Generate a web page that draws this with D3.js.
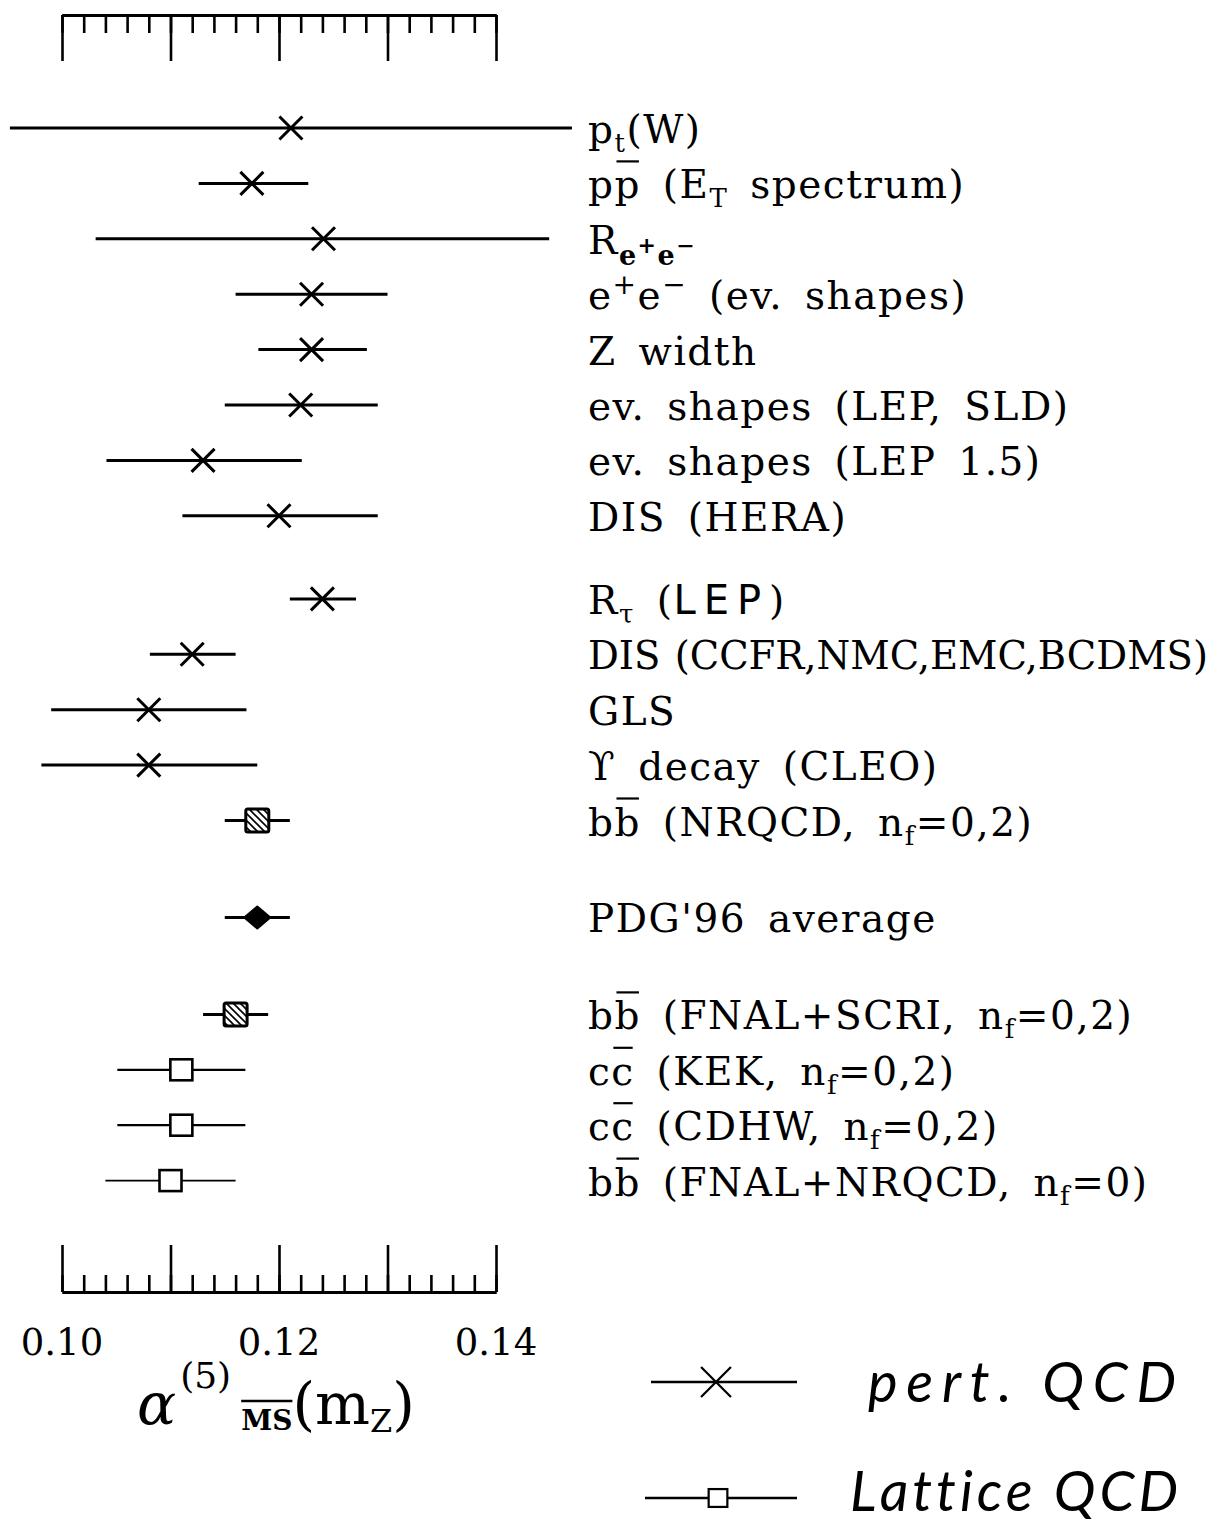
<!DOCTYPE html>
<html>
<head>
<meta charset="utf-8">
<script src="https://cdn.jsdelivr.net/npm/d3@7"></script>
<style>
  html, body { margin: 0; padding: 0; background: #fff; }
  svg { display: block; }
</style>
</head>
<body>
<script>
// ---------- data ----------
const labels = [
  [["p","n"],["t","sub"],["(W)","n"]],
  [["p","n"],["p","bar"],[" (E","n"],["T","sub"],[" spectrum)","n"]],
  [["R","n"],["e","esub"],["+","esup"],["e","esub"],["−","esup"]],
  [["e","n"],["+","sup"],["e","n"],["−","sup"],[" (ev. shapes)","n"]],
  [["Z width","n"]],
  [["ev. shapes (LEP, SLD)","n"]],
  [["ev. shapes (LEP 1.5)","n"]],
  [["DIS (HERA)","n"]],
  [["R","n"],["τ","sub"],[" (","n"],["LEP","sans"],[")","n"]],
  [["DIS (CCFR,NMC,EMC,BCDMS)","n"]],
  [["GLS","n"]],
  [["ϒ decay (CLEO)","n"]],
  [["b","n"],["b","bar"],[" (NRQCD, n","n"],["f","sub"],["=0,2)","n"]],
  [["PDG'96 average","n"]],
  [["b","n"],["b","bar"],[" (FNAL+SCRI, n","n"],["f","sub"],["=0,2)","n"]],
  [["c","n"],["c","bar"],[" (KEK, n","n"],["f","sub"],["=0,2)","n"]],
  [["c","n"],["c","bar"],[" (CDHW, n","n"],["f","sub"],["=0,2)","n"]],
  [["b","n"],["b","bar"],[" (FNAL+NRQCD, n","n"],["f","sub"],["=0)","n"]]
];
const slots   = [0, 1, 2, 3, 4, 5, 6, 7, 8.5, 9.5, 10.5, 11.5, 12.5, 14.25, 16, 17, 18, 19];
const centers = [0.1211, 0.1175, 0.1241, 0.1230, 0.1230, 0.1220, 0.1130, 0.1200, 0.1240, 0.1120, 0.1080, 0.1080, 0.1180, 0.1180, 0.1160, 0.1110, 0.1110, 0.1100];
const lows    = [0.0952, 0.1126, 0.1031, 0.1160, 0.1181, 0.1150, 0.1041, 0.1111, 0.1210, 0.1081, 0.0990, 0.0981, 0.1150, 0.1150, 0.1130, 0.1051, 0.1051, 0.1040];
const highs   = [0.1470, 0.1227, 0.1449, 0.1300, 0.1281, 0.1291, 0.1221, 0.1291, 0.1271, 0.1160, 0.1170, 0.1180, 0.1210, 0.1210, 0.1190, 0.1169, 0.1169, 0.1160];
const markers = ["x","x","x","x","x","x","x","x","x","x","x","x","hatch","diamond","hatch","box","box","box"];
const majorTicks = [0.10, 0.11, 0.12, 0.13, 0.14];
const tickLabelValues = [0.10, 0.12, 0.14];
const tickLabels = ["0.10", "0.12", "0.14"];
const legendItems = ["pert. QCD", "Lattice QCD"];
const legendMarkers = ["x", "box"];

// ---------- setup ----------
const W = 1217, H = 1524;
const svg = d3.select("body").append("svg").attr("width", W).attr("height", H);
const defs = svg.append("defs");
const pat = defs.append("pattern").attr("id","hatch").attr("patternUnits","userSpaceOnUse")
  .attr("width",7).attr("height",7);
pat.append("rect").attr("width",7).attr("height",7).attr("fill","#fff");
pat.append("path").attr("d","M-1,-1L8,8M-1,6L1,8M6,-1L8,1").attr("stroke","#000").attr("stroke-width",1.6);

const x = d3.scaleLinear().domain([0.10, 0.14]).range([62, 496]);
const y = d3.scaleLinear().domain([0, 19]).range([128, 1180.6]);

const serif = "'DejaVu Serif', 'Liberation Serif', serif";

// ---------- axes ----------
function styleAxis(g, w) {
  g.selectAll("path.domain").attr("stroke","#000").attr("stroke-width",w);
  g.selectAll(".tick line").attr("stroke","#000").attr("stroke-width",2.6);
  g.selectAll(".tick text").remove();
}
const topY = 15, botY = 1292;
const gTopMinor = svg.append("g").attr("transform",`translate(0,${topY})`)
  .call(d3.axisBottom(x).tickValues(x.ticks(20)).tickSize(18).tickSizeOuter(0).tickFormat(""));
styleAxis(gTopMinor, 3);
const gTopMajor = svg.append("g").attr("transform",`translate(0,${topY})`)
  .call(d3.axisBottom(x).tickValues(majorTicks).tickSize(46).tickSizeOuter(0).tickFormat(""));
styleAxis(gTopMajor, 3);
const gBotMinor = svg.append("g").attr("transform",`translate(0,${botY})`)
  .call(d3.axisTop(x).tickValues(x.ticks(20)).tickSize(17).tickSizeOuter(0).tickFormat(""));
styleAxis(gBotMinor, 3);
const gBotMajor = svg.append("g").attr("transform",`translate(0,${botY})`)
  .call(d3.axisTop(x).tickValues(majorTicks).tickSize(47).tickSizeOuter(0).tickFormat(""));
styleAxis(gBotMajor, 3);

svg.append("g").selectAll("text").data(tickLabelValues).join("text")
  .attr("x", d => x(d)).attr("y", 1355)
  .attr("text-anchor","middle")
  .attr("font-family", serif).attr("font-size", 37).attr("fill","#000")
  .text((d,i) => tickLabels[i]);

// ---------- axis title ----------
const title = svg.append("text").attr("x", 137).attr("y", 1424)
  .attr("font-family", serif).attr("fill","#000");
title.append("tspan").attr("font-size", 58).attr("font-style","italic").text("α");
title.append("tspan").attr("font-size", 36).attr("dx", 4).attr("dy", -36).text("(5)");
const msT = title.append("tspan").attr("font-size", 28).attr("font-weight","bold").attr("dx", 10).attr("dy", 42).text("MS");
title.append("tspan").attr("font-size", 58).attr("dy", -6).text("(m");
title.append("tspan").attr("font-size", 32).attr("dy", 8).text("Z");
title.append("tspan").attr("font-size", 58).attr("dy", -8).text(")");
{
  const bb = msT.node().getBBox();
  svg.append("line").attr("x1", bb.x).attr("x2", bb.x + bb.width)
    .attr("y1", bb.y - 3).attr("y2", bb.y - 3).attr("stroke","#000").attr("stroke-width",2.5);
}

// ---------- rows ----------
const rows = d3.range(centers.length);
const gRows = svg.append("g");

// error bars
gRows.selectAll("line.err").data(rows).join("line").attr("class","err")
  .attr("x1", i => x(lows[i])).attr("x2", i => x(highs[i]))
  .attr("y1", i => y(slots[i])).attr("y2", i => y(slots[i]))
  .attr("stroke","#000")
  .attr("stroke-width", i => markers[i] === "box" ? (i === rows.length - 1 ? 1.6 : 2.2) : 3);

function drawMarker(g, type, cx, cy, s) {
  if (type === "x") {
    const r = 11.5 * s;
    g.append("path").attr("d", `M${cx-r},${cy-r}L${cx+r},${cy+r}M${cx-r},${cy+r}L${cx+r},${cy-r}`)
      .attr("stroke","#000").attr("stroke-width", 3 * (s > 1 ? 0.75 : 1)).attr("fill","none");
  } else if (type === "hatch") {
    g.append("rect").attr("x", cx-11.5).attr("y", cy-11.5).attr("width",23).attr("height",23)
      .attr("rx",2).attr("fill","url(#hatch)").attr("stroke","#000").attr("stroke-width",3);
  } else if (type === "diamond") {
    g.append("path").attr("d", `M${cx-13},${cy}L${cx},${cy-11}L${cx+13},${cy}L${cx},${cy+11}Z`)
      .attr("fill","#000").attr("stroke","#000").attr("stroke-width",2).attr("stroke-linejoin","round");
  } else if (type === "box") {
    const w = 22 * s, h = 21 * s;
    g.append("rect").attr("x", cx-w/2).attr("y", cy-h/2).attr("width",w).attr("height",h)
      .attr("fill","#fff").attr("stroke","#000").attr("stroke-width", 2.6 * (s < 1 ? 0.85 : 1));
  }
}
rows.forEach(i => drawMarker(gRows, markers[i], x(centers[i]), y(slots[i]), 1));

// labels
const kinds = {
  n:    {off: 0,   size: 39},
  bar:  {off: 0,   size: 39},
  sub:  {off: 9,   size: 26},
  sup:  {off: -15, size: 28},
  esub: {off: 11,  size: 27, bold: true},
  esup: {off: -1,  size: 22, bold: true},
  sans: {off: 0,   size: 40, sans: true}
};
const labelX = 588, labelMaxW = 620;
rows.forEach(i => {
  const base = y(slots[i]) + 15;
  const t = gRows.append("text").attr("x", labelX).attr("y", base)
    .attr("font-family", serif).attr("font-size", 39).attr("fill","#000")
    .attr("letter-spacing", 1.5).attr("word-spacing", 8)
    .style("white-space","pre");
  let cur = 0;
  const bars = [];
  labels[i].forEach(([txt, kind]) => {
    const k = kinds[kind];
    const ts = t.append("tspan").attr("dy", k.off - cur).attr("font-size", k.size).text(txt);
    if (k.bold) ts.attr("font-weight","bold");
    if (k.sans) ts.attr("font-family","'DejaVu Sans', sans-serif").attr("letter-spacing", 8);
    cur = k.off;
    if (kind === "bar") bars.push(ts);
  });
  if (t.node().getComputedTextLength() > labelMaxW) {
    t.attr("letter-spacing", 0).attr("word-spacing", 2)
     .attr("textLength", labelMaxW).attr("lengthAdjust", "spacingAndGlyphs");
  }
  bars.forEach(ts => {
    const bb = ts.node().getBBox();
    gRows.append("line").attr("x1", bb.x + 2).attr("x2", bb.x + bb.width - 2)
      .attr("y1", base - 37).attr("y2", base - 37)
      .attr("stroke","#000").attr("stroke-width",2.2);
  });
});

// ---------- legend ----------
const legY = d3.scaleOrdinal().domain(legendItems).range([1382, 1498]);
const legG = svg.append("g");
legendItems.forEach((name, j) => {
  const cy = legY(name);
  const x1 = j === 0 ? 651 : 645, x2 = 797, cx = j === 0 ? 716 : 718;
  legG.append("line").attr("x1", x1).attr("x2", x2).attr("y1", cy).attr("y2", cy)
    .attr("stroke","#000").attr("stroke-width",2.6);
  drawMarker(legG, legendMarkers[j], cx, cy, j === 0 ? 1.3 : 0.85);
  legG.append("text").attr("x", j === 0 ? 868 : 850).attr("y", cy + (j === 0 ? 20 : 13))
    .attr("font-family","Lato, 'Open Sans', sans-serif").attr("font-style","italic")
    .attr("font-size", 56).attr("fill","#000")
    .attr("textLength", j === 0 ? 308 : 328).attr("lengthAdjust","spacing")
    .style("white-space","pre").style("font-variant-ligatures","none")
    .text(name);
});
</script>
</body>
</html>
